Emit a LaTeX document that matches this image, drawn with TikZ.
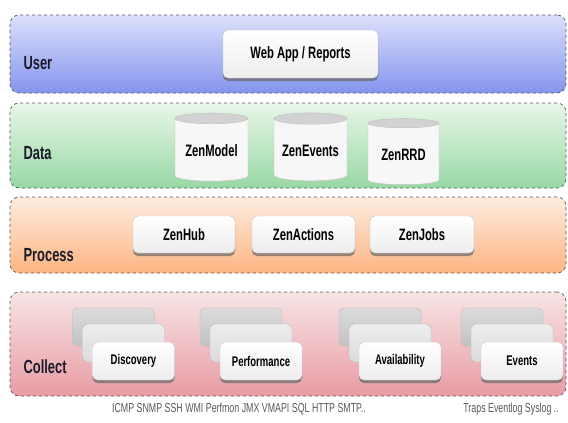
\documentclass[tikz,border=0pt]{standalone}
\usepackage{fontspec}
\newfontfamily\narrowfont[FakeStretch=0.68]{Liberation Sans}
\definecolor{usertop}{HTML}{DCE0FB}
\definecolor{userbot}{HTML}{8594EE}
\definecolor{datatop}{HTML}{E8F6E8}
\definecolor{databot}{HTML}{98D8A4}
\definecolor{proctop}{HTML}{FDEDE0}
\definecolor{procbot}{HTML}{FDB482}
\definecolor{colltop}{HTML}{F7E4E5}
\definecolor{collbot}{HTML}{E89CA4}
\definecolor{inkdark}{HTML}{1B1B2A}
\usetikzlibrary{shapes.geometric,shadows}

\begin{document}
\begin{tikzpicture}[x=1pt,y=-1pt,
    band/.style={draw=gray!70!black, dashed, line width=0.7pt,
      rounded corners=9pt, minimum width=556pt, shading=axis},
    layerlabel/.style={anchor=west, text=inkdark,
      font=\narrowfont\bfseries\fontsize{19}{19}\selectfont},
    compbox/.style={rectangle, rounded corners=5pt, draw=gray!45,
      top color=white, bottom color=gray!14,
      drop shadow={shadow xshift=0pt, shadow yshift=-3pt, fill=black!60, opacity=0.7},
      font=\narrowfont\bfseries\fontsize{16.5}{16.5}\selectfont},
    store/.style={cylinder, shape border rotate=90, aspect=0.18,
      draw=gray!50, cylinder uses custom fill,
      cylinder end fill=gray!35, cylinder body fill=gray!6,
      minimum width=73pt, minimum height=68pt,
      font=\narrowfont\bfseries\fontsize{16.5}{16.5}\selectfont},
    collbox/.style={compbox, minimum width=82pt, minimum height=38pt,
      font=\narrowfont\bfseries\fontsize{14}{14}\selectfont},
    backbox/.style={rectangle, rounded corners=5pt, draw=gray!55,
      minimum width=82pt, minimum height=38pt},
    protocols/.style={text=black!65,
      font=\narrowfont\fontsize{13}{13}\selectfont}]

  \useasboundingbox (0,0) rectangle (568,423);

  % layer bands
  \node[band, top color=usertop, bottom color=userbot, minimum height=78pt] (user) at (288,54) {};
  \node[band, top color=datatop, bottom color=databot, minimum height=85pt] (data) at (288,145.5) {};
  \node[band, top color=proctop, bottom color=procbot, minimum height=76pt] (proc) at (288,235) {};
  \node[band, top color=colltop, bottom color=collbot, minimum height=104pt] (coll) at (288,344) {};

  \node[layerlabel] (userlbl) at (20,63) {User};
  \node[layerlabel] (datalbl) at (20,153) {Data};
  \node[layerlabel] (proclbl) at (20,255) {Process};
  \node[layerlabel] (colllbl) at (20,367) {Collect};

  % user layer
  \node[compbox, minimum width=155pt, minimum height=48pt] (webapp) at (300.5,54) {Web App / Reports};

  % data layer
  \node[store] (zmodel) at (211.5,151) {ZenModel};
  \node[store] (zevents) at (310.5,151) {ZenEvents};
  \node[store, minimum width=71pt, minimum height=66pt] (zrrd) at (403.5,155) {ZenRRD};

  % process layer
  \node[compbox, minimum width=102pt, minimum height=37pt] (zhub) at (184,234.5) {ZenHub};
  \node[compbox, minimum width=103pt, minimum height=37pt] (zactions) at (303.5,234.5) {ZenActions};
  \node[compbox, minimum width=104pt, minimum height=37pt] (zjobs) at (422,234.5) {ZenJobs};

  % collect layer, three stacked daemons each
  \foreach \nm/\cx/\txt in {disc/133.5/Discovery, perf/261/Performance,
      avail/400/Availability, events/522/Events} {
    \node[backbox, top color=gray!28, bottom color=gray!48] (\nm-back) at (\cx-20,327) {};
    \node[backbox, top color=gray!14, bottom color=gray!28] (\nm-mid) at (\cx-10,343) {};
    \node[collbox] (\nm) at (\cx,361) {\txt};
  }

  \node[protocols] (proto) at (239,409) {ICMP SNMP SSH WMI Perfmon JMX VMAPI SQL HTTP SMTP..};
  \node[protocols] (evsrc) at (511,409) {Traps Eventlog Syslog\,..};
\end{tikzpicture}
\end{document}
